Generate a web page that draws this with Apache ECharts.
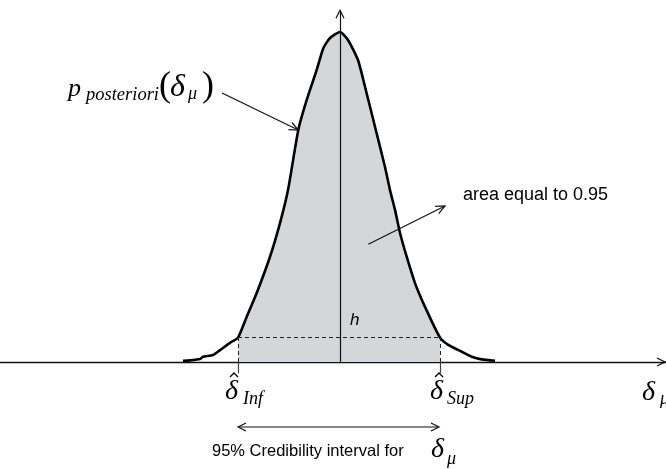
<!DOCTYPE html>
<html><head><meta charset="utf-8">
<script src="https://cdn.jsdelivr.net/npm/echarts@6/dist/echarts.min.js"></script>
<style>html,body{margin:0;padding:0;background:#fff}#c{width:666px;height:469px}</style>
</head><body><div id="c"></div>
<script>
// posterior density curve (arbitrary units: delta_mu, density normalised to peak = 1)
const curveX = [-7.85, -7.5, -7.0, -6.85, -6.35, -6.0, -5.5, -5.1, -4.665, -4.165, -3.5, -3.0, -2.6, -2.085, -1.665, -1.165, -0.835, -0.5, 0, 0.4, 0.9, 1.25, 1.75, 2.25, 2.5, 2.75, 3.0, 3.335, 3.75, 4.25, 5.0, 5.415, 6.085, 6.585, 7.085, 7.75];
const curveY = [0.004, 0.005, 0.009, 0.016, 0.021, 0.036, 0.058, 0.074, 0.137, 0.209, 0.319, 0.421, 0.521, 0.703, 0.794, 0.885, 0.951, 0.982, 1.0, 0.976, 0.915, 0.834, 0.713, 0.591, 0.521, 0.461, 0.391, 0.319, 0.239, 0.167, 0.074, 0.052, 0.031, 0.016, 0.008, 0.004];
const deltaInf = -5.1;
const deltaSup = 5.0;
const hLevel = 0.074;
const modeX = 0;
const xRange = [-17, 16.3];
const yRange = [-0.3242, 1.0667];

const serif = '"Liberation Serif", "DejaVu Serif", serif';
const sans = '"Liberation Sans", Arial, sans-serif';
const ink = '#111';

const curve = curveX.map((x, i) => [x, curveY[i]]);
const interval = curve.filter(p => p[0] >= deltaInf && p[0] <= deltaSup);

const chart = echarts.init(document.getElementById('c'), null, {renderer: 'canvas'});
const dashStyle = {type: [4, 3], color: '#222', width: 1};
const option = {
  animation: false,
  backgroundColor: '#fff',
  grid: {left: 0, right: 0, top: 10, bottom: 0},
  xAxis: {type: 'value', min: xRange[0], max: xRange[1],
    axisLine: {show: true, onZero: true, lineStyle: {color: ink, width: 1.3}},
    axisTick: {show: false}, axisLabel: {show: false}, splitLine: {show: false}},
  yAxis: {type: 'value', min: yRange[0], max: yRange[1], show: false, splitLine: {show: false}},
  series: [
    {type: 'line', data: interval, smooth: 0.2, symbol: 'none', z: 1,
      lineStyle: {width: 0}, areaStyle: {color: '#d5d6d9', opacity: 1}},
    {type: 'line', data: [], symbol: 'none', z: 2,
      markLine: {silent: true, symbol: ['none', 'none'], label: {show: false}, animation: false,
        data: [
          [{coord: [deltaInf, hLevel], lineStyle: dashStyle}, {coord: [deltaSup, hLevel]}],
          [{coord: [deltaInf, 0], lineStyle: dashStyle}, {coord: [deltaInf, hLevel]}],
          [{coord: [deltaSup, 0], lineStyle: dashStyle}, {coord: [deltaSup, hLevel]}],
          [{coord: [deltaInf, 0], lineStyle: {type: 'solid', color: '#444', width: 1.2}}, {coord: [deltaInf, -0.034]}],
          [{coord: [deltaSup, 0], lineStyle: {type: 'solid', color: '#444', width: 1.2}}, {coord: [deltaSup, -0.034]}],
          [{coord: [modeX, 0], lineStyle: {type: 'solid', color: ink, width: 1.2}}, {coord: [modeX, yRange[1] - 0.001]}]
        ]}},
    {type: 'line', data: curve, smooth: 0.2, symbol: 'none', z: 3,
      lineStyle: {color: '#000', width: 2.6}}
  ]
};
chart.setOption(option);

const P = (x, y) => chart.convertToPixel({gridIndex: 0}, [x, y]);
function head(tip, from, len, hw) {
  const dx = tip[0] - from[0], dy = tip[1] - from[1], L = Math.hypot(dx, dy);
  const ux = dx / L, uy = dy / L, bx = tip[0] - ux * len, by = tip[1] - uy * len;
  return {type: 'polyline', z: 10, shape: {points: [[bx - uy * hw, by + ux * hw], tip, [bx + uy * hw, by - ux * hw]]},
    style: {stroke: ink, lineWidth: 1.2, fill: null}};
}
function shaft(a, b) {
  return {type: 'line', z: 10, shape: {x1: a[0], y1: a[1], x2: b[0], y2: b[1]}, style: {stroke: ink, lineWidth: 1.2}};
}
function hat(anchor, dx, dy) {
  const x = anchor[0] + dx, y = anchor[1] + dy;
  return {type: 'polyline', z: 11, shape: {points: [[x - 4, y + 4], [x, y], [x + 4, y + 4]]},
    style: {stroke: '#000', lineWidth: 1.3, fill: null}};
}
function txt(anchor, dx, base, s, fs, fam, italic) {
  return {type: 'text', z: 11, x: anchor[0] + dx, y: anchor[1] + base - 0.3 * fs,
    style: {text: s, fontSize: fs, fontFamily: fam, fontStyle: italic ? 'italic' : 'normal',
      fill: '#000', align: 'left', verticalAlign: 'middle'}};
}

const g = [];
// arrow to curve
const a1 = P(-5.9, 0.815), a1t = P(-2.085, 0.703);
g.push(shaft(a1, a1t), head(a1t, a1, 9, 4));
// arrow into area
const a2 = P(1.415, 0.357), a2t = P(5.25, 0.473);
g.push(shaft(a2, a2t), head(a2t, a2, 9, 4));
// credibility double arrow
const d1 = P(deltaInf, -0.197), d2 = P(deltaSup - 0.05, -0.197);
g.push(shaft(d1, d2), head(d1, d2, 8, 4), head(d2, d1, 8, 4));
// vertical axis arrow head
const v0 = P(modeX, 0), vt = P(modeX, yRange[1] - 0.001);
g.push(head(vt, v0, 8, 4));
// horizontal axis arrow head
const h0 = P(0, 0), ht = P(xRange[1] - 0.05, 0);
g.push(head(ht, h0, 8, 4));

// labels
g.push(txt(a1, -154, 4, 'p', 26, serif, true));
g.push(txt(a1, -136, 8, 'posteriori', 18.5, serif, true));
g.push(txt(a1, -63, 4, '(', 36, serif, false));
g.push(txt(a1, -52, 4, 'δ', 32, serif, true));
g.push(txt(a1, -34, 7, 'μ', 18, serif, true));
g.push(txt(a1, -20, 4, ')', 36, serif, false));

const ai = P(deltaInf, 0);
g.push(txt(ai, -13, 38, 'δ', 28, serif, true));
g.push(hat(ai, -4, 11));
g.push(txt(ai, 5, 43, 'Inf', 18, serif, true));
const as = P(deltaSup, 0);
g.push(txt(as, -10, 38, 'δ', 28, serif, true));
g.push(hat(as, -1, 11));
g.push(txt(as, 7, 43, 'Sup', 18, serif, true));

const ax = P(xRange[1], 0);
g.push(txt(ax, -24, 39, 'δ', 28, serif, true));
g.push(txt(ax, -6, 43, 'μ', 18, serif, true));

const hp = P(modeX, hLevel);
g.push(txt(hp, 10, -12, 'h', 17, sans, true));

g.push(txt(a2t, 18, -5, 'area equal to 0.95', 18, sans, false));

g.push(txt(d1, -26, 29, '95% Credibility interval for', 16.5, sans, false));
g.push(txt(d1, 193, 31, 'δ', 28, serif, true));
g.push(txt(d1, 209, 38, 'μ', 18, serif, true));

chart.setOption({graphic: g});
</script>
</body></html>
